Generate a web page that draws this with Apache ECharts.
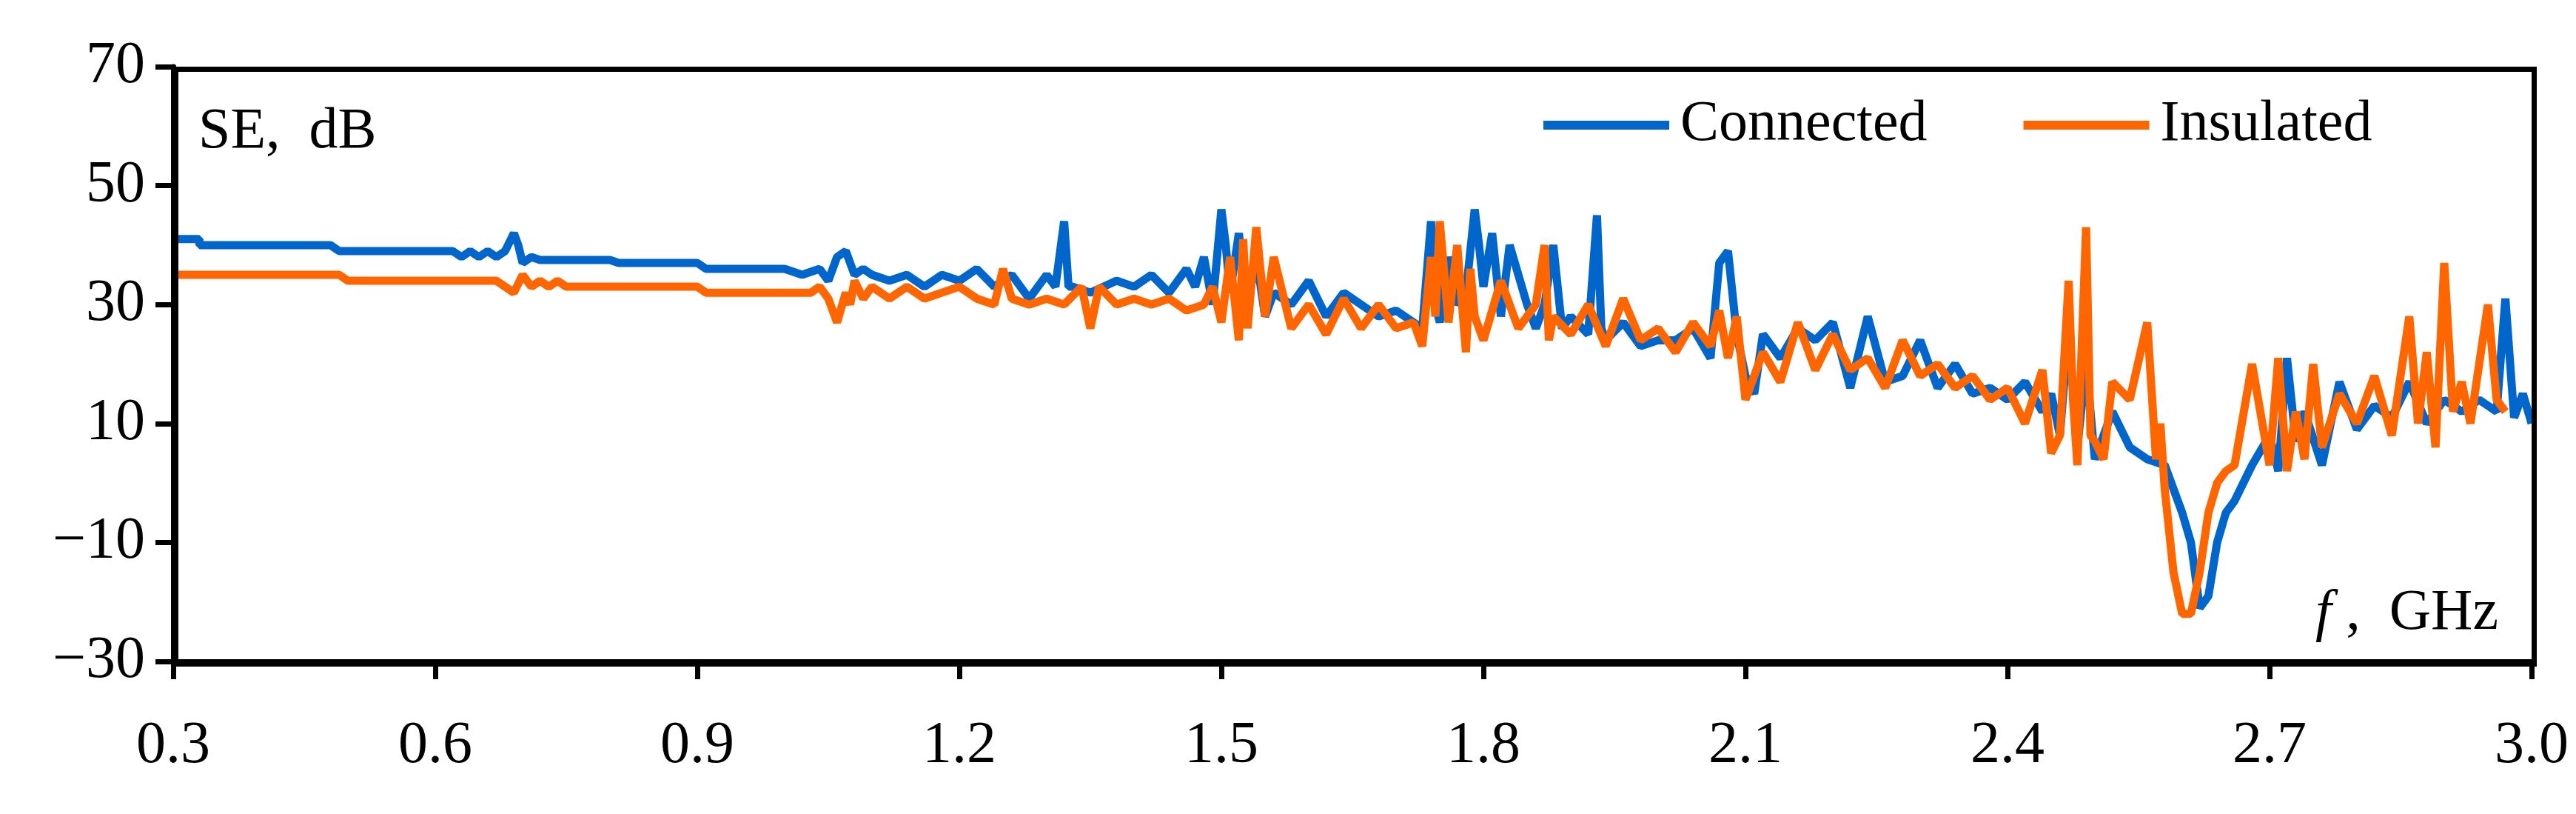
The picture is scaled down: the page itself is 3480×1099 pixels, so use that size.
<!DOCTYPE html><html><head><meta charset="utf-8">
<script src="https://cdn.jsdelivr.net/npm/echarts@6/dist/echarts.min.js"></script>
<style>html,body{margin:0;background:#fff}#c{width:3480px;height:1099px}</style></head><body><div id="c"></div><script>
const xTicks=[0.3,0.6,0.9,1.2,1.5,1.8,2.1,2.4,2.7,3.0];
const connX=[0.30,0.33,0.33,0.48,0.49,0.62,0.63,0.64,0.65,0.66,0.67,0.68,0.69,0.695,0.70,0.71,0.72,0.73,0.80,0.81,0.82,0.90,0.91,1.00,1.02,1.04,1.05,1.06,1.07,1.08,1.09,1.10,1.12,1.14,1.16,1.18,1.20,1.22,1.24,1.26,1.28,1.30,1.31,1.32,1.325,1.33,1.35,1.38,1.40,1.42,1.44,1.46,1.47,1.48,1.49,1.50,1.505,1.51,1.52,1.53,1.54,1.55,1.56,1.58,1.60,1.62,1.64,1.66,1.68,1.70,1.72,1.73,1.74,1.745,1.75,1.76,1.77,1.78,1.79,1.795,1.80,1.81,1.82,1.83,1.85,1.86,1.87,1.88,1.89,1.90,1.92,1.93,1.935,1.94,1.96,1.98,2.00,2.02,2.04,2.06,2.07,2.08,2.09,2.10,2.11,2.12,2.14,2.16,2.18,2.20,2.22,2.24,2.26,2.28,2.30,2.32,2.34,2.36,2.38,2.40,2.42,2.44,2.45,2.46,2.47,2.48,2.49,2.50,2.52,2.54,2.56,2.58,2.60,2.61,2.62,2.63,2.64,2.65,2.66,2.68,2.70,2.71,2.72,2.73,2.74,2.76,2.78,2.80,2.82,2.84,2.86,2.88,2.90,2.92,2.94,2.96,2.97,2.98,2.99,3.00];
const connY=[41,41,40,40,39,39,38,39,38,39,38,39,42,40,37,38,37.5,37.5,37.5,37,37,37,36,36,35,36,34,38,39,35,36,35,34,35,33,35,34,36,33,35,31,35,33,44,33,33,32,34,33,35,32,36,33,38,30,46,40,32,42,30,38,28,32,30,34,28,32,30,28,29,27,26,44,30,27,38,30,32,46,40,33,42,28,40,30,26,30,40,26,28,25,45,26,24,27,23,24,24,26,21,37,39,25,18,15,25,21,26,24,27,16,28,17,18,24,16,20,15,16,14,17,12,15,8,26,6,20,4,12,6,4,3,-5,-10,-21,-19,-10,-5,-3,3,8,2,21,7,12,3,17,9,13,11,17,10,14,12,14,12,31,11,15,10];
const insX=[0.30,0.49,0.50,0.67,0.68,0.69,0.70,0.71,0.72,0.73,0.74,0.75,0.76,0.90,0.91,1.03,1.04,1.05,1.06,1.07,1.075,1.08,1.09,1.10,1.12,1.14,1.16,1.18,1.20,1.22,1.24,1.25,1.26,1.28,1.30,1.32,1.34,1.35,1.36,1.38,1.40,1.42,1.44,1.46,1.48,1.49,1.50,1.51,1.52,1.525,1.53,1.54,1.55,1.56,1.58,1.60,1.62,1.64,1.66,1.68,1.70,1.72,1.73,1.74,1.745,1.75,1.76,1.77,1.78,1.785,1.79,1.80,1.82,1.84,1.86,1.87,1.875,1.88,1.90,1.92,1.94,1.96,1.98,2.00,2.02,2.04,2.06,2.07,2.08,2.09,2.10,2.12,2.14,2.16,2.18,2.20,2.22,2.24,2.26,2.28,2.30,2.32,2.34,2.36,2.38,2.40,2.42,2.44,2.45,2.46,2.47,2.475,2.48,2.49,2.495,2.50,2.51,2.52,2.54,2.56,2.57,2.575,2.58,2.59,2.60,2.61,2.62,2.63,2.64,2.65,2.66,2.68,2.70,2.71,2.72,2.73,2.74,2.75,2.76,2.78,2.80,2.82,2.84,2.86,2.87,2.88,2.89,2.90,2.91,2.92,2.93,2.95,2.96,2.97,2.98,2.99,3.00];
const insY=[35,35,34,34,33,32,35,33,34,33,34,33,33,33,32,32,33,31,27,32,30,34,31,33,31,33,31,32,33,31,30,36,31,30,31,30,33,26,33,30,31,30,31,29,30,33,27,38,24,41,26,43,28,38,26,30,25,31,26,30,26,27,23,38,28,44,27,40,22,36,28,24,34,26,30,40,24,28,25,30,23,31,24,26,22,27,23,29,21,28,14,22,17,27,19,25,19,21,16,24,18,20,16,18,14,16,10,19,5,8,34,14,3,43,8,7,4,17,14,27,4,10,-1,-15,-22,-22,-15,-5,0,2,3,20,3,21,2,12,4,20,6,15,10,18,8,28,10,22,6,37,12,17,10,30,14,12];
const pair=(xs,ys)=>xs.map((x,i)=>[x,ys[i]]);
const F='Liberation Serif';
const ch=echarts.init(document.getElementById('c'));
ch.setOption({
 animation:false,
 grid:{left:234,right:60,top:90,bottom:206},
 legend:{left:2080,top:125,itemWidth:170,itemGap:130,icon:'rect',itemHeight:12,
  textStyle:{fontFamily:F,fontSize:78,color:'#000',padding:[0,0,0,10]},
  data:['Connected','Insulated']},
 xAxis:{type:'value',min:0.3,max:3.0,interval:0.3,
  axisLine:{onZero:false,lineStyle:{color:'#000',width:7}},
  axisTick:{length:24,lineStyle:{width:7,color:'#000'}},
  axisLabel:{fontFamily:F,fontSize:80,color:'#000',margin:75,formatter:v=>v.toFixed(1)},
  splitLine:{show:false}},
 yAxis:{type:'value',min:-30,max:70,interval:20,
  axisLine:{show:true,lineStyle:{color:'#000',width:7}},
  axisTick:{show:true,length:24,lineStyle:{width:7,color:'#000'}},
  axisLabel:{fontFamily:F,fontSize:80,color:'#000',margin:38,formatter:v=>v<0?'\u2212'+(-v):''+v},
  splitLine:{show:false}},
 graphic:[
  {type:'rect',left:234,top:90,shape:{width:3186,height:803},style:{fill:'none',stroke:'#000',lineWidth:7},z:10},
  {type:'text',left:268,top:140,style:{text:'SE,  dB',font:'78px "Liberation Serif"',fill:'#000'},z:11},
  {type:'text',right:105,top:790,style:{text:'{i|f} ,  GHz',rich:{i:{fontStyle:'italic',fontFamily:F,fontSize:78}},font:'78px "Liberation Serif"',fill:'#000'},z:11}
 ],
 series:[
  {name:'Connected',type:'line',symbol:'none',data:pair(connX,connY),color:'#0066CC',lineStyle:{width:11}},
  {name:'Insulated',type:'line',symbol:'none',data:pair(insX,insY),color:'#FF6600',lineStyle:{width:11}}
 ]
});
</script></body></html>
